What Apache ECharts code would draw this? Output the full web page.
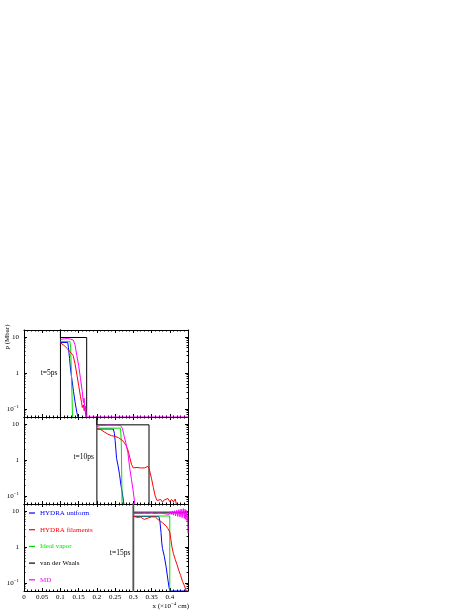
<!DOCTYPE html>
<html>
<head>
<meta charset="utf-8">
<script src="https://cdn.jsdelivr.net/npm/echarts@6/dist/echarts.min.js"></script>
<style>
html, body { margin: 0; background: #fff; }
#chart { width: 474px; height: 614px; }
</style>
</head>
<body>
<div id="chart"></div>
<script>
// 各面板数据 [x (1e-4 cm), p (Mbar)]
const seriesNames = ['HYDRA uniform', 'HYDRA filaments', 'Ideal vapor', 'van der Waals', 'MD'];
const seriesColors = ['#0000ff', '#ff0000', '#00dd00', '#000000', '#ff00ff'];
const panelLabels = ['t=5ps', 't=10ps', 't=15ps'];
const panelEdges = [0.1, 0.2, 0.3];

// t = 5 ps
const p1Uniform = [[0.1, 7.0], [0.12, 7.0], [0.122, 5], [0.125, 2.5], [0.128, 1.2], [0.132, 0.6], [0.136, 0.3], [0.14, 0.16], [0.145, 0.08], [0.148, 0.06]];
const p1Filaments = [[0.1, 6.8], [0.105, 6.5], [0.11, 5.8], [0.115, 5.2], [0.12, 4.6], [0.125, 4.0], [0.13, 3.5], [0.135, 3.0], [0.14, 1.8], [0.145, 0.9], [0.15, 0.45], [0.155, 0.22], [0.158, 0.15], [0.16, 0.11], [0.163, 0.13], [0.165, 0.09], [0.167, 0.11], [0.17, 0.06]];
const p1Ideal = [[0.1, 7.5], [0.126, 7.5], [0.128, 5], [0.13, 1], [0.132, 0.2], [0.133, 0.06]];
const p1VdW = [[0.1, 0.001], [0.1, 1000], [0.1, 9.6], [0.172, 9.6], [0.172, 0.001]];
const p1MD = [[0.1, 8.5], [0.11, 8.8], [0.12, 9.0], [0.128, 8.6], [0.135, 8.2], [0.14, 6], [0.145, 3], [0.15, 1.6], [0.155, 0.7], [0.16, 0.3], [0.163, 0.15], [0.165, 0.2], [0.167, 0.09], [0.169, 0.12], [0.171, 0.06], [0.45, 0.06]];

// t = 10 ps
const p2Uniform = [[0.2, 7.2], [0.245, 7.2], [0.248, 5.5], [0.25, 3.5], [0.252, 2.0], [0.254, 1.1], [0.258, 0.7], [0.262, 0.4], [0.266, 0.2], [0.27, 0.12], [0.273, 0.07], [0.274, 0.06]];
const p2Filaments = [[0.2, 7.3], [0.205, 7.2], [0.21, 7.0], [0.215, 6.5], [0.22, 6.0], [0.225, 5.6], [0.23, 5.2], [0.235, 4.9], [0.24, 4.7], [0.245, 4.6], [0.25, 4.5], [0.255, 4.3], [0.26, 4.1], [0.265, 3.9], [0.27, 3.5], [0.275, 3.0], [0.28, 2.5], [0.285, 1.9], [0.29, 1.2], [0.295, 0.75], [0.3, 0.6], [0.305, 0.58], [0.31, 0.62], [0.315, 0.56], [0.32, 0.6], [0.325, 0.55], [0.33, 0.6], [0.335, 0.62], [0.34, 0.66], [0.343, 0.58], [0.346, 0.45], [0.35, 0.3], [0.355, 0.17], [0.36, 0.1], [0.365, 0.075], [0.37, 0.07], [0.375, 0.08], [0.38, 0.068], [0.385, 0.078], [0.39, 0.07], [0.395, 0.085], [0.4, 0.07], [0.405, 0.08], [0.41, 0.069], [0.415, 0.082], [0.418, 0.06]];
const p2Ideal = [[0.2, 7.6], [0.265, 7.6], [0.267, 3], [0.268, 0.5], [0.269, 0.06]];
const p2VdW = [[0.2, 0.001], [0.2, 1000], [0.2, 9.4], [0.343, 9.4], [0.343, 0.001]];
const p2MD = [[0.2, 8.5], [0.21, 9.0], [0.23, 9.2], [0.25, 9.2], [0.265, 9.0], [0.27, 7.5], [0.275, 4.5], [0.28, 2.8], [0.285, 1.6], [0.29, 0.6], [0.295, 0.28], [0.3, 0.13], [0.304, 0.06]];

// t = 15 ps
const p3Uniform = [[0.3, 7.0], [0.37, 7.0], [0.373, 5], [0.376, 2.5], [0.378, 1.3], [0.38, 0.9], [0.385, 0.55], [0.39, 0.28], [0.395, 0.12], [0.398, 0.075], [0.4, 0.06], [0.45, 0.06]];
const p3Filaments = [[0.3, 7.2], [0.305, 7.0], [0.31, 6.6], [0.315, 6.4], [0.32, 6.7], [0.325, 6.3], [0.33, 5.8], [0.335, 5.9], [0.34, 6.3], [0.345, 6.6], [0.35, 6.8], [0.355, 6.9], [0.36, 6.8], [0.365, 6.2], [0.37, 5.5], [0.375, 5.0], [0.38, 4.7], [0.385, 4.3], [0.39, 3.8], [0.395, 3.2], [0.4, 2.6], [0.403, 1.6], [0.406, 1.0], [0.41, 0.65], [0.415, 0.45], [0.42, 0.32], [0.425, 0.22], [0.43, 0.16], [0.435, 0.11], [0.44, 0.085], [0.445, 0.06]];
const p3Ideal = [[0.3, 7.2], [0.4, 7.2], [0.4, 0.06]];
const p3VdW = [[0.3, 0.001], [0.3, 1000], [0.3, 9.0], [0.45, 9.0]];
const p3MD = [[0.3, 8.3], [0.31, 8.6], [0.32, 8.5], [0.33, 8.7], [0.34, 8.5], [0.35, 8.8], [0.36, 8.4], [0.37, 8.7], [0.38, 8.5], [0.385, 9.0], [0.39, 8.2], [0.395, 9.2], [0.398, 8.0], [0.401, 9.5], [0.404, 7.9], [0.407, 9.8], [0.41, 7.6], [0.413, 10.1], [0.416, 7.3], [0.419, 10.4], [0.422, 7.0], [0.425, 10.8], [0.428, 6.8], [0.431, 11.2], [0.434, 6.5], [0.437, 11.5], [0.44, 6.2], [0.442, 11], [0.444, 5.8], [0.446, 10.2], [0.448, 5.0], [0.449, 7.5], [0.45, 2.4]];

const panelData = [
    [p1Uniform, p1Filaments, p1Ideal, p1VdW, p1MD],
    [p2Uniform, p2Filaments, p2Ideal, p2VdW, p2MD],
    [p3Uniform, p3Filaments, p3Ideal, p3VdW, p3MD]
];

const FONT = 'Liberation Serif';
const gridTops = [330, 417, 504];
const gridH = 87;
const gridLeft = 24;
const gridW = 164;

function initChart() {
    const chart = echarts.init(document.getElementById('chart'));

    const grids = [], xAxes = [], yAxes = [], series = [];

    gridTops.forEach((top, i) => {
        grids.push({ left: gridLeft, top: top, width: gridW, height: gridH, containLabel: false });

        // 下/上 x 轴
        ['bottom', 'top'].forEach(pos => {
            const showLabel = (i === 2 && pos === 'bottom');
            xAxes.push({
                type: 'value', gridIndex: i, position: pos,
                min: 0, max: 0.45, interval: 0.05,
                axisLine: { show: true, onZero: false, lineStyle: { color: '#000', width: 1 } },
                axisTick: { show: true, inside: true, length: 3, lineStyle: { color: '#000' } },
                minorTick: { show: true, splitNumber: 5, length: 1.5, lineStyle: { color: '#000' } },
                splitLine: { show: false },
                axisLabel: {
                    show: showLabel, margin: 3, fontSize: 7, fontFamily: FONT, color: '#000',
                    showMaxLabel: false,
                    formatter: v => String(+v.toFixed(2))
                }
            });
        });

        // 左/右 y 轴 (对数)
        ['left', 'right'].forEach(pos => {
            yAxes.push({
                type: 'log', logBase: 10, gridIndex: i, position: pos,
                min: 0.06, max: 15.5,
                axisLine: { show: true, onZero: false, lineStyle: { color: '#000', width: 1 } },
                axisTick: { show: true, inside: true, length: 3, lineStyle: { color: '#000' } },
                minorTick: { show: true, splitNumber: 9, length: 1.5, lineStyle: { color: '#000' } },
                splitLine: { show: false },
                axisLabel: {
                    show: pos === 'left', margin: 5, fontSize: 7, fontFamily: FONT, color: '#000',
                    showMinLabel: false, showMaxLabel: false,
                    formatter: function (v) {
                        if (Math.abs(v - 10) < 1e-6) return '10';
                        if (Math.abs(v - 1) < 1e-6) return '1';
                        if (Math.abs(v - 0.1) < 1e-6) return '10{s|\u22121}';
                        return '';
                    },
                    rich: { s: { fontSize: 5, fontFamily: FONT, color: '#000', verticalAlign: 'top', padding: [0, 0, 5, 0] } }
                }
            });
        });

        // 曲线: 先画范德瓦尔斯，然后其他
        [3, 0, 2, 1, 4].forEach(k => {
            const isVdw3 = (k === 3 && i === 2);
            series.push({
                type: 'line', name: seriesNames[k],
                xAxisIndex: i * 2, yAxisIndex: i * 2,
                data: panelData[i][k],
                symbol: 'none', clip: true, silent: true, animation: false,
                lineStyle: { color: isVdw3 ? '#555' : seriesColors[k], width: isVdw3 ? 1.8 : 1 },
                itemStyle: { color: seriesColors[k] }
            });
        });
    });

    const legend = {
        orient: 'vertical', left: 29, top: 508, padding: 0,
        icon: 'rect', itemWidth: 6, itemHeight: 1.2, itemGap: 6.7,
        selectedMode: false,
        textStyle: { fontSize: 7, fontFamily: FONT, lineHeight: 10 },
        data: seriesNames.map((n, k) => ({ name: n, textStyle: { color: seriesColors[k] } }))
    };

    const baseGraphic = [
        {
            type: 'text', x: 7, y: 337, rotation: Math.PI / 2,
            style: { text: 'p (Mbar)', fontSize: 7, fontFamily: FONT, fill: '#000', align: 'center', verticalAlign: 'middle' }
        },
        {
            type: 'text', x: 189, y: 606,
            style: {
                text: 'x (\u00d710{s|\u22124} cm)', fontSize: 7, fontFamily: FONT, fill: '#000',
                align: 'right', verticalAlign: 'middle',
                rich: { s: { fontSize: 5, fontFamily: FONT, verticalAlign: 'top', padding: [0, 0, 4, 0] } }
            }
        }
    ];

    chart.setOption({
        animation: false,
        grid: grids,
        xAxis: xAxes,
        yAxis: yAxes,
        legend: legend,
        series: series,
        graphic: baseGraphic
    });

    // 面板标签放在初始间断左侧
    const labelGraphics = panelLabels.map((t, i) => {
        const pt = chart.convertToPixel({ xAxisIndex: i * 2, yAxisIndex: i * 2 }, [panelEdges[i], 1]);
        return {
            type: 'text', x: pt[0] - 3, y: pt[1] + [0, -3, 6][i],
            style: { text: t, fontSize: 7.5, fontFamily: FONT, fill: '#000', align: 'right', verticalAlign: 'middle' }
        };
    });
    chart.setOption({ graphic: baseGraphic.concat(labelGraphics) });
}

document.addEventListener('DOMContentLoaded', initChart);
</script>
</body>
</html>
